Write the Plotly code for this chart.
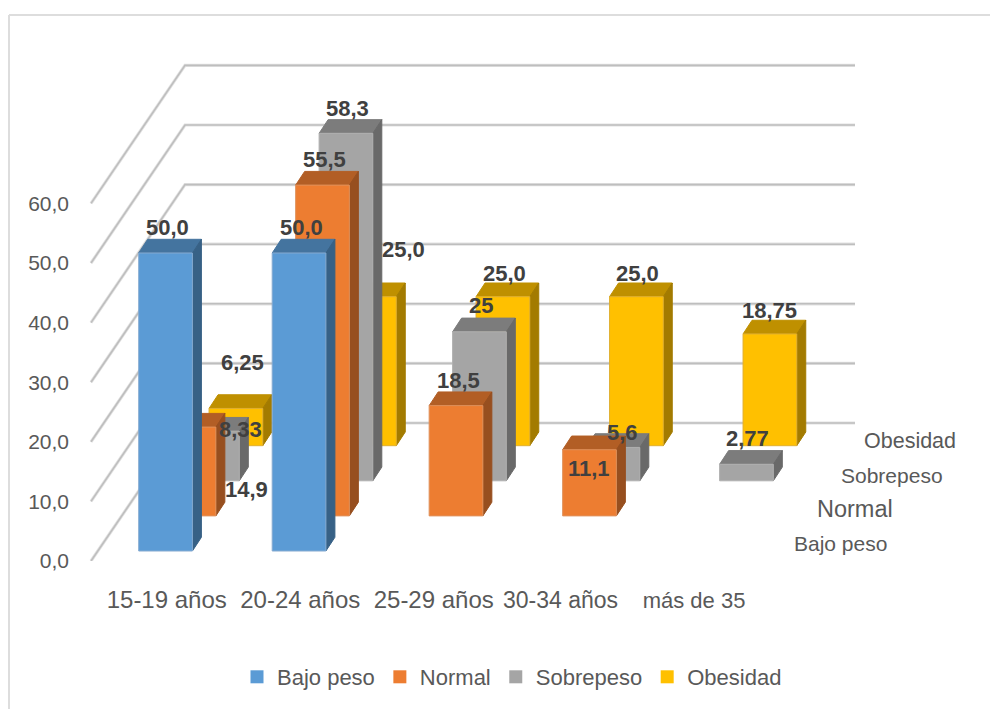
import plotly.graph_objects as go

# Chart content
categories = ["15-19 años", "20-24 años", "25-29 años", "30-34 años", "más de 35"]
series_names = ["Bajo peso", "Normal", "Sobrepeso", "Obesidad"]
bajo_peso = [50.0, 50.0, None, None, None]
normal = [14.9, 55.5, 18.5, 11.1, None]
sobrepeso = [8.33, 58.3, 25.0, 5.6, 2.77]
obesidad = [6.25, 25.0, 25.0, 25.0, 18.75]
bajo_peso_text = ["50,0", "50,0", None, None, None]
normal_text = ["14,9", "55,5", "18,5", "11,1", None]
sobrepeso_text = ["8,33", "58,3", "25", "5,6", "2,77"]
obesidad_text = ["6,25", "25,0", "25,0", "25,0", "18,75"]
value_ticks = [0, 10, 20, 30, 40, 50, 60]
value_tick_text = ["0,0", "10,0", "20,0", "30,0", "40,0", "50,0", "60,0"]

series_values = [bajo_peso, normal, sobrepeso, obesidad]
series_text = [bajo_peso_text, normal_text, sobrepeso_text, obesidad_text]

# Face colours per series: front, top, side, outline
FACE_COLORS = [
    ("#5B9BD5", "#44749F", "#376186", "#86AAD0"),
    ("#ED7D31", "#B25E25", "#974F1F", "#E0925C"),
    ("#A5A5A5", "#7C7C7C", "#696969", "#B0B0B0"),
    ("#FFC000", "#BF9000", "#A37B00", "#E0B030"),
]

# Oblique projection, in pixels per unit of the drawing
PX_PER_VALUE = 5.96
PX_PER_CATEGORY = 133.5
PLOT_LEFT, PLOT_TOP, PLOT_BOTTOM = 70, 15, 561
FIG_W, FIG_H = 990, 709
FIRST_BAR_LEFT = 138.7

BAR_W = 53.7 / PX_PER_CATEGORY
SLOT_DX = 23.45 / PX_PER_CATEGORY
SLOT_DY = 35.1 / PX_PER_VALUE
BAR_DX = 9.0 / PX_PER_CATEGORY
BAR_DY = 13.7 / PX_PER_VALUE
FLOOR_LIFT = 10.0 / PX_PER_VALUE
WALL_DX = 94.0 / PX_PER_CATEGORY
WALL_DY = 138.0 / PX_PER_VALUE
WALL_FRONT = (91 - FIRST_BAR_LEFT) / PX_PER_CATEGORY
WALL_END = (855 - FIRST_BAR_LEFT) / PX_PER_CATEGORY


def to_x(px):
    return (px - FIRST_BAR_LEFT) / PX_PER_CATEGORY


def bar_faces(cat, slot, value):
    """Return front, top and side polygons of one bar in axis units."""
    x0 = cat + slot * SLOT_DX
    x1 = x0 + BAR_W
    y0 = FLOOR_LIFT + slot * SLOT_DY
    y1 = y0 + value
    front = ([x0, x1, x1, x0, x0], [y0, y0, y1, y1, y0])
    top = ([x0, x1, x1 + BAR_DX, x0 + BAR_DX, x0],
           [y1, y1, y1 + BAR_DY, y1 + BAR_DY, y1])
    side = ([x1, x1 + BAR_DX, x1 + BAR_DX, x1, x1],
            [y0, y0 + BAR_DY, y1 + BAR_DY, y1, y0])
    return front, top, side


fig = go.Figure()

# Floor-to-wall gridlines: thick pale stroke with a darker core
grid_x, grid_y = [], []
for tick in value_ticks:
    grid_x += [WALL_FRONT, WALL_FRONT + WALL_DX, WALL_END, None]
    grid_y += [tick, tick + WALL_DY, tick + WALL_DY, None]
for width, color in ((3.2, "#E2E2E2"), (1.6, "#BEBEBE")):
    fig.add_trace(go.Scatter(x=grid_x, y=grid_y, mode="lines", showlegend=False,
                             hoverinfo="skip", line=dict(color=color, width=width)))

# Bars, painted from the back row to the front row
for slot in reversed(range(len(series_names))):
    front_c, top_c, side_c, edge_c = FACE_COLORS[slot]
    polys = [[], [], [], [], [], []]
    for cat, value in enumerate(series_values[slot]):
        if value is None:
            continue
        for i, (xs, ys) in enumerate(bar_faces(cat, slot, value)):
            polys[2 * i] += xs + [None]
            polys[2 * i + 1] += ys + [None]
    for i, color, edge in ((2, top_c, top_c), (4, side_c, side_c), (0, front_c, edge_c)):
        fig.add_trace(go.Scatter(x=polys[i], y=polys[i + 1], mode="lines", fill="toself",
                                 fillcolor=color, showlegend=False, hoverinfo="skip",
                                 line=dict(color=edge, width=1)))

# Legend entries
for name, colors in zip(series_names, FACE_COLORS):
    fig.add_trace(go.Scatter(x=[None], y=[None], mode="markers", name=name,
                             marker=dict(symbol="square", size=13, color=colors[0])))

# Value labels, pixel offsets from the centre of each bar's top face
LABEL_NUDGE = [
    [(-3, -19), (-2.5, -19), None, None, None],
    [(53, 68.75), (-2.5, -19), (-2.5, -18), (-5, 26), None],
    [(24, 5), (-3, -17.5), (-2.5, -19), (5, -8.5), (-3.5, -18.5)],
    [(1.6, -39.6), (29.6, -40.85), (-3.4, -16.85), (-3.4, -16.85), (-5, -17)],
]
annotations = []
for slot, (values, texts) in enumerate(zip(series_values, series_text)):
    for cat, (value, text) in enumerate(zip(values, texts)):
        if value is None:
            continue
        nudge_x, nudge_y = LABEL_NUDGE[slot][cat]
        annotations.append(dict(
            x=cat + slot * SLOT_DX + (BAR_W + BAR_DX) / 2,
            y=FLOOR_LIFT + slot * SLOT_DY + value + BAR_DY / 2,
            text=f"<b>{text}</b>", showarrow=False, xanchor="center", yanchor="middle",
            xshift=nudge_x, yshift=-nudge_y,
            font=dict(family="Liberation Sans", size=22, color="#404040"),
        ))

# Series names along the depth axis
DEPTH_FONT_SIZES = [21, 23.5, 21, 21.5]
for slot, name in enumerate(series_names):
    annotations.append(dict(
        x=to_x(792) + slot * SLOT_DX,
        y=(561 - 543) / PX_PER_VALUE + slot * SLOT_DY * 34 / 35.1,
        text=name, showarrow=False, xanchor="left", yanchor="middle",
        font=dict(family="Liberation Sans", size=DEPTH_FONT_SIZES[slot], color="#595959"),
    ))

CATEGORY_TICK_NUDGE = [0, 0, 0, -0.05, -0.05]
CATEGORY_FONT_SIZES = [24, 24, 24, 23, 22]
tick_labels = [f'<span style="font-size:{size}px">{label}</span>'
               for label, size in zip(categories, CATEGORY_FONT_SIZES)]
BORDER_X = (9 - PLOT_LEFT) / (FIG_W - PLOT_LEFT)
BORDER_Y = (PLOT_BOTTOM - 15) / (PLOT_BOTTOM - PLOT_TOP)
fig.update_layout(
    width=FIG_W, height=FIG_H, autosize=False,
    margin=dict(l=PLOT_LEFT, r=0, t=PLOT_TOP, b=FIG_H - PLOT_BOTTOM, pad=0),
    paper_bgcolor="white", plot_bgcolor="white",
    font=dict(family="Liberation Sans", color="#595959"),
    annotations=annotations,
    xaxis=dict(
        range=[to_x(PLOT_LEFT), to_x(FIG_W)],
        tickvals=[i + 0.21 + n for i, n in enumerate(CATEGORY_TICK_NUDGE)],
        ticktext=tick_labels, ticks="outside", ticklen=18, tickcolor="rgba(0,0,0,0)",
        tickfont=dict(size=23, color="#595959"),
        showgrid=False, zeroline=False, showline=False, fixedrange=True,
    ),
    yaxis=dict(
        range=[0, (PLOT_BOTTOM - PLOT_TOP) / PX_PER_VALUE],
        tickvals=value_ticks, ticktext=value_tick_text, ticks="",
        tickfont=dict(size=21, color="#595959"),
        showgrid=False, zeroline=False, showline=False, fixedrange=True,
    ),
    legend=dict(orientation="h", x=(237 - PLOT_LEFT) / (FIG_W - PLOT_LEFT), xanchor="left",
                y=1 - 656 / FIG_H, yanchor="top", yref="container",
                font=dict(size=22, color="#595959"),
                itemwidth=30, bgcolor="rgba(0,0,0,0)"),
    shapes=[
        dict(type="line", xref="paper", yref="paper", layer="below",
             x0=BORDER_X, x1=1, y0=BORDER_Y, y1=BORDER_Y,
             line=dict(color="#DDDDDD", width=2)),
        dict(type="line", xref="paper", yref="paper", layer="below",
             x0=BORDER_X, x1=BORDER_X,
             y0=(PLOT_BOTTOM - FIG_H) / (PLOT_BOTTOM - PLOT_TOP), y1=BORDER_Y,
             line=dict(color="#DDDDDD", width=2)),
    ],
)

fig.write_html("out.html", config=dict(displayModeBar=False))
